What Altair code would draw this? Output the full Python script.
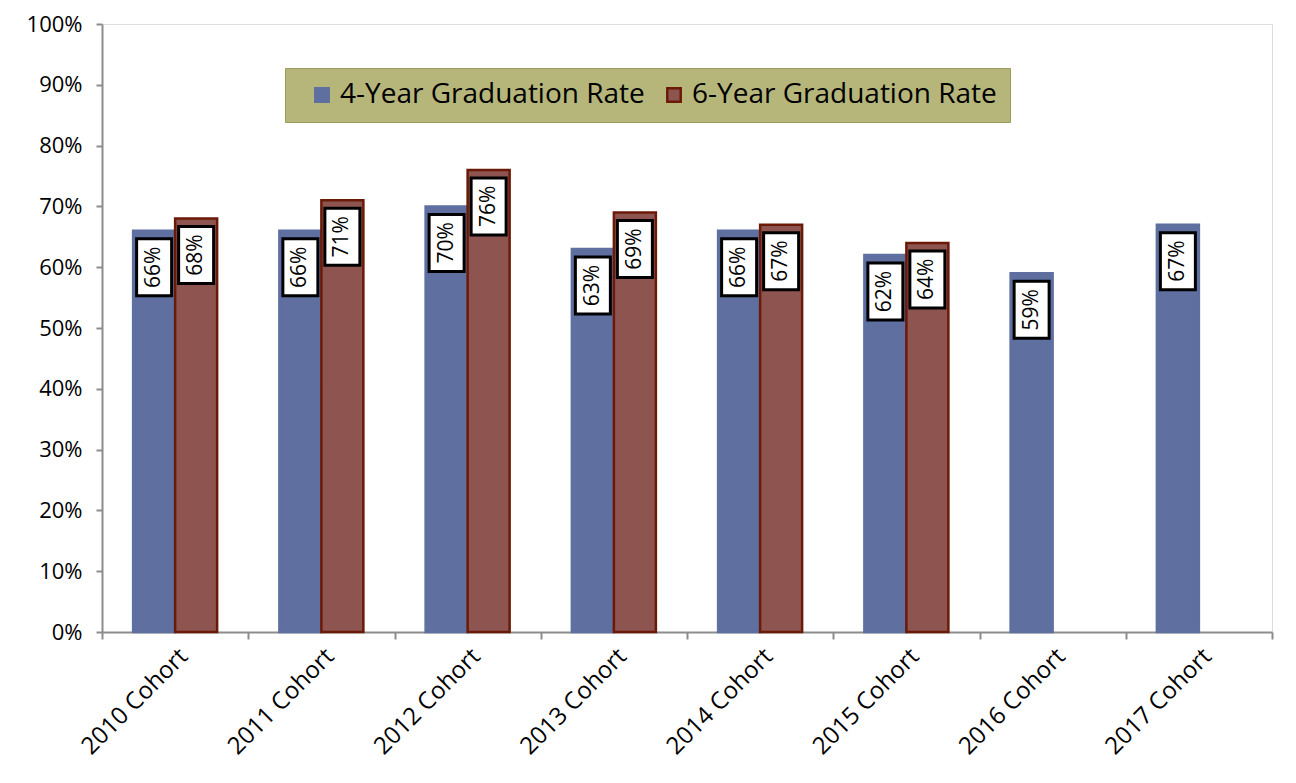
import altair as alt
import pandas as pd

cohorts = ["2010 Cohort", "2011 Cohort", "2012 Cohort", "2013 Cohort",
           "2014 Cohort", "2015 Cohort", "2016 Cohort", "2017 Cohort"]
series = ["4-Year Graduation Rate", "6-Year Graduation Rate"]
four_year = [0.66, 0.66, 0.70, 0.63, 0.66, 0.62, 0.59, 0.67]
six_year = [0.68, 0.71, 0.76, 0.69, 0.67, 0.64, None, None]
y_ticks = [0, 0.1, 0.2, 0.3, 0.4, 0.5, 0.6, 0.7, 0.8, 0.9, 1.0]

rows = []
for c, a, b in zip(cohorts, four_year, six_year):
    rows.append({"cohort": c, "series": series[0], "rate": a})
    if b is not None:
        rows.append({"cohort": c, "series": series[1], "rate": b})
df = pd.DataFrame(rows)

FONT = "Open Sans"
BLUE = "#5e6fa0"
RED = "#8e5450"
RED_EDGE = "#6b1a08"
AXIS_GRAY = "#8c8c8c"

x_enc = alt.X("cohort:N", sort=cohorts, title=None,
              scale=alt.Scale(paddingInner=0, paddingOuter=0),
              axis=alt.Axis(labelAngle=-45, labelAlign="right", labelBaseline="top",
                            labelFontSize=24, labelFont=FONT, labelColor="#000000",
                            labelPadding=5, tickBand="extent", tickSize=7,
                            tickWidth=2, tickColor=AXIS_GRAY, domainColor=AXIS_GRAY,
                            domainWidth=2, labelLimit=300))
xo_enc = alt.XOffset("series:N", sort=series,
                     scale=alt.Scale(paddingInner=0, paddingOuter=0.741))
y_enc = alt.Y("rate:Q", title=None,
              scale=alt.Scale(domain=[0, 1], nice=False),
              axis=alt.Axis(values=y_ticks, format=".0%", labelFontSize=22,
                            labelFont=FONT, labelColor="#000000", labelPadding=14,
                            tickSize=6, tickWidth=2, tickColor=AXIS_GRAY,
                            domainColor=AXIS_GRAY, domainWidth=2, grid=False))

color_scale = alt.Scale(domain=series, range=[BLUE, RED])
stroke_scale = alt.Scale(domain=series, range=[BLUE, RED_EDGE])

bars = alt.Chart(df).mark_bar(strokeWidth=2.5).encode(
    x=x_enc,
    xOffset=xo_enc,
    y=y_enc,
    color=alt.Color("series:N", scale=color_scale, sort=series, title=None,
                    legend=alt.Legend(orient="none", legendX=183, legendY=44,
                                      direction="horizontal", title=None,
                                      labelFont=FONT, labelFontSize=28,
                                      labelColor="#000000", labelLimit=500,
                                      symbolType="square", symbolOffset=10,
                                      symbolSize=180, symbolStrokeWidth=2.5,
                                      labelOffset=4, columnPadding=5,
                                      padding=13, fillColor="#b6b67b",
                                      strokeColor="#9c9a5c")),
    stroke=alt.Stroke("series:N", scale=stroke_scale, sort=series, title=None,
                      legend=None),
)

boxes = alt.Chart(df).mark_bar(width=35, yOffset=8, y2Offset=65, fill="#ffffff",
                               stroke="#000000", strokeWidth=3).encode(
    x=alt.X("cohort:N", sort=cohorts),
    xOffset=alt.XOffset("series:N", sort=series),
    y=alt.Y("rate:Q"),
    y2=alt.Y2("rate:Q"),
)

labels = alt.Chart(df).mark_text(angle=270, align="center", baseline="middle",
                                 yOffset=36.5, font=FONT, fontSize=21,
                                 color="#000000").encode(
    x=alt.X("cohort:N", sort=cohorts),
    xOffset=alt.XOffset("series:N", sort=series),
    y=alt.Y("rate:Q"),
    text=alt.Text("rate:Q", format=".0%"),
)

chart = alt.layer(bars, boxes, labels).properties(
    width=1170, height=608,
    autosize=alt.AutoSizeParams(type="none"),
    padding={"left": 94, "top": 16, "right": 16, "bottom": 140},
).configure_view(stroke=None).configure(background="#ffffff")

chart.save("out.html", embed_options={"renderer": "svg", "actions": False})
